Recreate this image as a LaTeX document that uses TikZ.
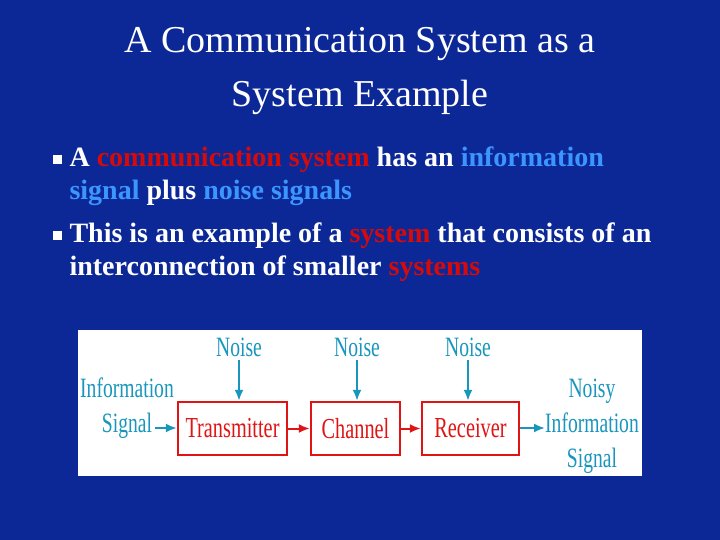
\documentclass[tikz,border=0pt]{standalone}
\usepackage{fontspec}
\setmainfont{Liberation Serif}
\newfontfamily\condfont[FakeStretch=0.7]{Liberation Serif}
\usetikzlibrary{positioning,arrows.meta}
\definecolor{slideblue}{RGB}{12,40,150}
\definecolor{hiblue}{RGB}{60,150,255}
\definecolor{hired}{RGB}{215,10,10}
\definecolor{diagteal}{RGB}{25,150,190}
\definecolor{boxred}{RGB}{225,20,20}
\newcommand{\hr}[1]{\textcolor{hired}{#1}}
\newcommand{\hb}[1]{\textcolor{hiblue}{#1}}
\begin{document}
\begin{tikzpicture}[x=1pt,y=-1pt,
    bullettext/.style={anchor=west, text=white, font=\fontsize{21}{33}\selectfont\bfseries, align=left},
    blockbox/.style={draw=boxred, line width=2.4pt, text=boxred, font=\condfont\fontsize{29}{29}\selectfont, minimum height=53pt, inner sep=0pt},
    difftext/.style={text=diagteal, font=\condfont\fontsize{28}{35}\selectfont, align=center},
    sigarrow/.style={diagteal, line width=2pt, -{Latex[length=11pt,width=9pt]}},
    blockarrow/.style={boxred, line width=2pt, -{Latex[length=11pt,width=9pt]}}]
    % fond
    \fill[slideblue] (0,0) rectangle (720,540);
    \useasboundingbox (0,0) rectangle (720,540);

    % titre
    \node[text=white, font=\fontsize{38}{54}\selectfont, align=center] (title) at (360,71)
        {A Communication System as a\\System Example};

    % puces
    \fill[white] (53,155) rectangle (62,164);
    \fill[white] (53,231) rectangle (62,240);
    \node[bullettext, font=\fontsize{28}{33}\selectfont\bfseries] (b1) at (66,176) {A \hr{communication system} has an \hb{information}\\\hb{signal} plus \hb{noise signals}};
    \node[bullettext, font=\fontsize{28}{33}\selectfont\bfseries] (b2) at (66,252) {This is an example of a \hr{system} that consists of an\\interconnection of smaller \hr{systems}};

    % panneau blanc
    \fill[white] (78,330) rectangle (642,476);

    % blocs
    \node[blockbox, minimum width=109pt] (tx) at (232.5,428.5) {Transmitter};
    \node[blockbox, minimum width=89pt] (ch) at (355.5,428.5) {Channel};
    \node[blockbox, minimum width=97pt] (rx) at (470.5,428.5) {Receiver};

    % bruits
    \node[difftext] (n1) at (239,347) {Noise};
    \node[difftext] (n2) at (357,347) {Noise};
    \node[difftext] (n3) at (468,347) {Noise};
    \foreach \n/\b in {n1/tx, n2/ch, n3/rx}
        \draw[sigarrow] (\n.south) -- (\n.south |- \b.north);

    % entrée et sortie
    \node[difftext] (insig) at (127,408) {Information\\Signal};
    \node[difftext] (outsig) at (592,426) {Noisy\\Information\\Signal};
    \coordinate (inend) at (155,428);
    \coordinate (outend) at (545,428);
    \draw[sigarrow] (inend) -- (inend -| tx.west);
    \draw[blockarrow] (tx) -- (ch);
    \draw[blockarrow] (ch) -- (rx);
    \draw[sigarrow] (rx.east |- outend) -- (outend);
\end{tikzpicture}
\end{document}
